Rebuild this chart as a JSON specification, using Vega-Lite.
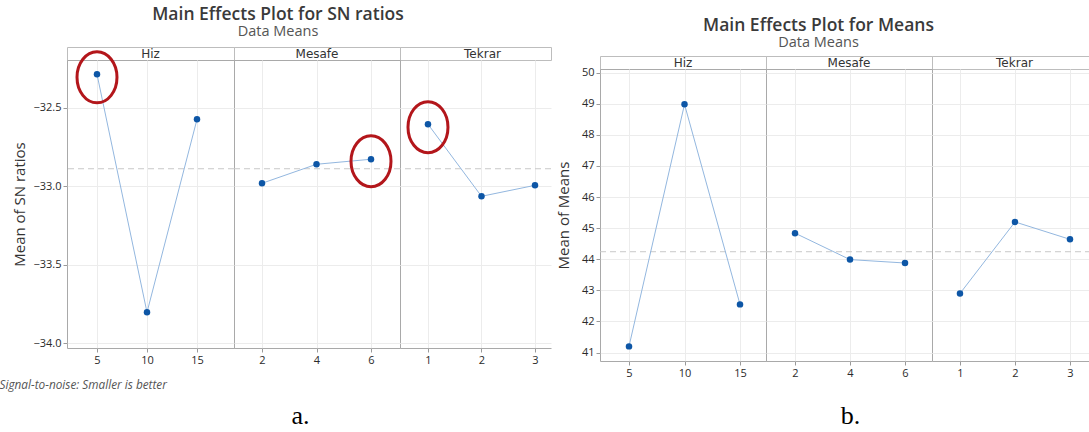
{
  "$schema": "https://vega.github.io/schema/vega-lite/v6.json",
  "background": "white",
  "padding": {"left": -2, "top": 5, "right": 0, "bottom": 4},
  "spacing": 3,
  "datasets": {
    "sn": [
      {"factor": "Hiz", "level": 5, "value": -32.288, "circled": 1},
      {"factor": "Hiz", "level": 10, "value": -33.804, "circled": 0},
      {"factor": "Hiz", "level": 15, "value": -32.575, "circled": 0},
      {"factor": "Mesafe", "level": 2, "value": -32.982, "circled": 0},
      {"factor": "Mesafe", "level": 4, "value": -32.861, "circled": 0},
      {"factor": "Mesafe", "level": 6, "value": -32.829, "circled": 1},
      {"factor": "Tekrar", "level": 1, "value": -32.606, "circled": 1},
      {"factor": "Tekrar", "level": 2, "value": -33.065, "circled": 0},
      {"factor": "Tekrar", "level": 3, "value": -32.995, "circled": 0}
    ],
    "means": [
      {"factor": "Hiz", "level": 5, "value": 41.2},
      {"factor": "Hiz", "level": 10, "value": 48.98},
      {"factor": "Hiz", "level": 15, "value": 42.55},
      {"factor": "Mesafe", "level": 2, "value": 44.84},
      {"factor": "Mesafe", "level": 4, "value": 43.99},
      {"factor": "Mesafe", "level": 6, "value": 43.88},
      {"factor": "Tekrar", "level": 1, "value": 42.9},
      {"factor": "Tekrar", "level": 2, "value": 45.2},
      {"factor": "Tekrar", "level": 3, "value": 44.64}
    ]
  },
  "config": {
    "font": "Open Sans",
    "view": {"stroke": "#a9a9a9", "strokeWidth": 1},
    "axis": {
      "labelFont": "Open Sans", "labelFontSize": 11, "labelColor": "#2a2a2a",
      "tickColor": "#9a9a9a", "tickSize": 4, "labelPadding": 2,
      "grid": true, "gridColor": "#ececec", "domain": false,
      "titleFont": "Open Sans", "titleFontWeight": "normal", "titleColor": "#333333"
    }
  },
  "hconcat": [
    {
      "title": {"text": "Main Effects Plot for SN ratios", "subtitle": "Data Means", "frame": "bounds", "anchor": "middle", "dx": 3,
        "font": "Open Sans", "fontSize": 17.5, "fontWeight": 600, "color": "#3a3a3a",
        "subtitleFont": "Open Sans", "subtitleFontSize": 14.5, "subtitleColor": "#555555", "subtitlePadding": 2, "offset": 6.5},
      "columns": 3,
      "bounds": "flush",
      "spacing": 0,
      "concat": [
        {"width": 167, "height": 13, "data": {"values": [{"label": "Hiz"}]}, "view": {"stroke": "#bdbdbd"},
          "mark": {"type": "text", "font": "DejaVu Sans", "fontSize": 12, "color": "#333333", "baseline": "middle"},
          "encoding": {"text": {"field": "label"}}},
        {"width": 166, "height": 13, "data": {"values": [{"label": "Mesafe"}]}, "view": {"stroke": "#bdbdbd"},
          "mark": {"type": "text", "font": "DejaVu Sans", "fontSize": 12, "color": "#333333", "baseline": "middle"},
          "encoding": {"text": {"field": "label"}}},
        {"width": 151, "height": 13, "data": {"values": [{"label": "Tekrar"}]}, "view": {"stroke": "#bdbdbd"},
          "mark": {"type": "text", "font": "DejaVu Sans", "fontSize": 12, "color": "#333333", "baseline": "middle", "dx": 7},
          "encoding": {"text": {"field": "label"}}},
        {
          "width": 167, "height": 288,
          "data": {"name": "sn"},
          "encoding": {"y": {"field": "value", "type": "quantitative", "scale": {"domain": [-34.031, -32.197]},
            "axis": {"values": [-34, -33.5, -33, -32.5], "format": ".1f", "title": "Mean of SN ratios", "titleFontSize": 15,
              "titleX": -48, "titleY": 144, "titleBaseline": "middle", "titleAlign": "center"}}},
          "layer": [
            {"transform": [{"aggregate": [{"op": "mean", "field": "value", "as": "value"}]}],
              "mark": {"type": "rule", "color": "#c8c8c8", "strokeDash": [6, 4], "strokeWidth": 1}, "encoding": {}},
            {"transform": [{"filter": "datum.factor === 'Hiz'"}],
              "mark": {"type": "line", "color": "#93b7df", "strokeWidth": 1},
              "encoding": {"x": {"field": "level", "type": "quantitative", "scale": {"domain": [2.0, 18.7]},
                "axis": {"values": [5, 10, 15], "format": "d", "title": "Signal-to-noise: Smaller is better", "titleFontStyle": "italic",
                  "titleFontSize": 11.8, "titleColor": "#555555", "titleX": -68, "titleY": 36, "titleAlign": "left", "titleBaseline": "middle"}}}},
            {"transform": [{"filter": "datum.factor === 'Hiz'"}],
              "mark": {"type": "point", "filled": true, "opacity": 1, "color": "#0d56a6", "size": 42},
              "encoding": {"x": {"field": "level", "type": "quantitative", "scale": {"domain": [2.0, 18.7]},
                "axis": {"values": [5, 10, 15], "format": "d", "title": "Signal-to-noise: Smaller is better", "titleFontStyle": "italic",
                  "titleFontSize": 11.8, "titleColor": "#555555", "titleX": -68, "titleY": 36, "titleAlign": "left", "titleBaseline": "middle"}}}},
            {"transform": [{"filter": "datum.factor === 'Hiz' && datum.circled === 1"}],
              "mark": {"type": "point", "shape": "M-0.784,0A0.784,1,0,1,1,0.784,0A0.784,1,0,1,1,-0.784,0Z", "size": 2601, "filled": false,
                "color": "#b3161b", "strokeWidth": 3, "opacity": 1, "yOffset": 3},
              "encoding": {"x": {"field": "level", "type": "quantitative", "scale": {"domain": [2.0, 18.7]},
                "axis": {"values": [5, 10, 15], "format": "d", "title": "Signal-to-noise: Smaller is better", "titleFontStyle": "italic",
                  "titleFontSize": 11.8, "titleColor": "#555555", "titleX": -68, "titleY": 36, "titleAlign": "left", "titleBaseline": "middle"}}}}
          ]
        },
        {
          "width": 166, "height": 288,
          "data": {"name": "sn"},
          "encoding": {"y": {"field": "value", "type": "quantitative", "scale": {"domain": [-34.031, -32.197]},
            "axis": {"values": [-34, -33.5, -33, -32.5], "labels": false, "ticks": false, "title": null}}},
          "layer": [
            {"transform": [{"aggregate": [{"op": "mean", "field": "value", "as": "value"}]}],
              "mark": {"type": "rule", "color": "#c8c8c8", "strokeDash": [6, 4], "strokeWidth": 1}, "encoding": {}},
            {"transform": [{"filter": "datum.factor === 'Mesafe'"}],
              "mark": {"type": "line", "color": "#93b7df", "strokeWidth": 1},
              "encoding": {"x": {"field": "level", "type": "quantitative", "scale": {"domain": [0.972, 7.064]},
                "axis": {"values": [2, 4, 6], "format": "d", "title": "a.", "titleFont": "Liberation Serif", "titleFontSize": 26, "titleColor": "#000000",
                  "titleX": 66, "titleY": 75, "titleAlign": "center", "titleBaseline": "alphabetic"}}}},
            {"transform": [{"filter": "datum.factor === 'Mesafe'"}],
              "mark": {"type": "point", "filled": true, "opacity": 1, "color": "#0d56a6", "size": 42},
              "encoding": {"x": {"field": "level", "type": "quantitative", "scale": {"domain": [0.972, 7.064]},
                "axis": {"values": [2, 4, 6], "format": "d", "title": "a.", "titleFont": "Liberation Serif", "titleFontSize": 26, "titleColor": "#000000",
                  "titleX": 66, "titleY": 75, "titleAlign": "center", "titleBaseline": "alphabetic"}}}},
            {"transform": [{"filter": "datum.factor === 'Mesafe' && datum.circled === 1"}],
              "mark": {"type": "point", "shape": "M-0.784,0A0.784,1,0,1,1,0.784,0A0.784,1,0,1,1,-0.784,0Z", "size": 2601, "filled": false,
                "color": "#b3161b", "strokeWidth": 3, "opacity": 1, "yOffset": 2},
              "encoding": {"x": {"field": "level", "type": "quantitative", "scale": {"domain": [0.972, 7.064]},
                "axis": {"values": [2, 4, 6], "format": "d", "title": "a.", "titleFont": "Liberation Serif", "titleFontSize": 26, "titleColor": "#000000",
                  "titleX": 66, "titleY": 75, "titleAlign": "center", "titleBaseline": "alphabetic"}}}}
          ]
        },
        {
          "width": 151, "height": 288,
          "view": {"stroke": null},
          "data": {"name": "sn"},
          "encoding": {"y": {"field": "value", "type": "quantitative", "scale": {"domain": [-34.031, -32.197]},
            "axis": {"values": [-34, -33.5, -33, -32.5], "labels": false, "ticks": false, "title": null}}},
          "layer": [
            {"transform": [{"aggregate": [{"op": "mean", "field": "value", "as": "value"}]}],
              "mark": {"type": "rule", "color": "#c8c8c8", "strokeDash": [6, 4], "strokeWidth": 1}, "encoding": {}},
            {"transform": [{"filter": "datum.factor === 'Tekrar'"}],
              "mark": {"type": "line", "color": "#93b7df", "strokeWidth": 1},
              "encoding": {"x": {"field": "level", "type": "quantitative", "scale": {"domain": [0.477, 3.299]},
                "axis": {"values": [1, 2, 3], "format": "d", "title": null, "domain": true, "domainColor": "#a9a9a9"}}}},
            {"transform": [{"filter": "datum.factor === 'Tekrar'"}],
              "mark": {"type": "point", "filled": true, "opacity": 1, "color": "#0d56a6", "size": 42},
              "encoding": {"x": {"field": "level", "type": "quantitative", "scale": {"domain": [0.477, 3.299]},
                "axis": {"values": [1, 2, 3], "format": "d", "title": null, "domain": true, "domainColor": "#a9a9a9"}}}},
            {"transform": [{"filter": "datum.factor === 'Tekrar' && datum.circled === 1"}],
              "mark": {"type": "point", "shape": "M-0.784,0A0.784,1,0,1,1,0.784,0A0.784,1,0,1,1,-0.784,0Z", "size": 2601, "filled": false,
                "color": "#b3161b", "strokeWidth": 3, "opacity": 1, "yOffset": 3},
              "encoding": {"x": {"field": "level", "type": "quantitative", "scale": {"domain": [0.477, 3.299]},
                "axis": {"values": [1, 2, 3], "format": "d", "title": null, "domain": true, "domainColor": "#a9a9a9"}}}}
          ]
        }
      ]
    },
    {
      "title": {"text": "Main Effects Plot for Means", "subtitle": "Data Means", "frame": "bounds", "anchor": "middle", "dx": -5,
        "font": "Open Sans", "fontSize": 17.5, "fontWeight": 600, "color": "#3a3a3a",
        "subtitleFont": "Open Sans", "subtitleFontSize": 14.5, "subtitleColor": "#555555", "subtitlePadding": 1, "offset": -3.5},
      "columns": 3,
      "bounds": "flush",
      "spacing": 0,
      "concat": [
        {"width": 166, "height": 9, "data": {"values": [{"label": ""}]}, "view": {"stroke": null},
          "mark": {"type": "text"}, "encoding": {"text": {"field": "label"}}},
        {"width": 166, "height": 9, "data": {"values": [{"label": ""}]}, "view": {"stroke": null},
          "mark": {"type": "text"}, "encoding": {"text": {"field": "label"}}},
        {"width": 159, "height": 9, "data": {"values": [{"label": ""}]}, "view": {"stroke": null},
          "mark": {"type": "text"}, "encoding": {"text": {"field": "label"}}},
        {"width": 166, "height": 13, "data": {"values": [{"label": "Hiz"}]}, "view": {"stroke": "#bdbdbd"},
          "mark": {"type": "text", "font": "DejaVu Sans", "fontSize": 12, "color": "#333333", "baseline": "middle"},
          "encoding": {"text": {"field": "label"}}},
        {"width": 166, "height": 13, "data": {"values": [{"label": "Mesafe"}]}, "view": {"stroke": "#bdbdbd"},
          "mark": {"type": "text", "font": "DejaVu Sans", "fontSize": 12, "color": "#333333", "baseline": "middle"},
          "encoding": {"text": {"field": "label"}}},
        {"width": 159, "height": 13, "data": {"values": [{"label": "Tekrar"}]}, "view": {"stroke": "#bdbdbd"},
          "mark": {"type": "text", "font": "DejaVu Sans", "fontSize": 12, "color": "#333333", "baseline": "middle", "dx": 3},
          "encoding": {"text": {"field": "label"}}},
        {
          "width": 166, "height": 292,
          "data": {"name": "means"},
          "encoding": {"y": {"field": "value", "type": "quantitative", "scale": {"domain": [40.73, 50.116]},
            "axis": {"values": [41, 42, 43, 44, 45, 46, 47, 48, 49, 50], "format": "d", "title": "Mean of Means", "titleFontSize": 15,
              "titleX": -37, "titleY": 146, "titleBaseline": "middle", "titleAlign": "center"}}},
          "layer": [
            {"transform": [{"aggregate": [{"op": "mean", "field": "value", "as": "value"}]}],
              "mark": {"type": "rule", "color": "#c8c8c8", "strokeDash": [6, 4], "strokeWidth": 1}, "encoding": {}},
            {"transform": [{"filter": "datum.factor === 'Hiz'"}],
              "mark": {"type": "line", "color": "#93b7df", "strokeWidth": 1},
              "encoding": {"x": {"field": "level", "type": "quantitative", "scale": {"domain": [2.387, 17.342]},
                "axis": {"values": [5, 10, 15], "format": "d", "title": null}}}},
            {"transform": [{"filter": "datum.factor === 'Hiz'"}],
              "mark": {"type": "point", "filled": true, "opacity": 1, "color": "#0d56a6", "size": 42},
              "encoding": {"x": {"field": "level", "type": "quantitative", "scale": {"domain": [2.387, 17.342]},
                "axis": {"values": [5, 10, 15], "format": "d", "title": null}}}}
          ]
        },
        {
          "width": 166, "height": 292,
          "data": {"name": "means"},
          "encoding": {"y": {"field": "value", "type": "quantitative", "scale": {"domain": [40.73, 50.116]},
            "axis": {"values": [41, 42, 43, 44, 45, 46, 47, 48, 49, 50], "labels": false, "ticks": false, "title": null}}},
          "layer": [
            {"transform": [{"aggregate": [{"op": "mean", "field": "value", "as": "value"}]}],
              "mark": {"type": "rule", "color": "#c8c8c8", "strokeDash": [6, 4], "strokeWidth": 1}, "encoding": {}},
            {"transform": [{"filter": "datum.factor === 'Mesafe'"}],
              "mark": {"type": "line", "color": "#93b7df", "strokeWidth": 1},
              "encoding": {"x": {"field": "level", "type": "quantitative", "scale": {"domain": [0.945, 6.982]},
                "axis": {"values": [2, 4, 6], "format": "d", "title": "b.", "titleFont": "Liberation Serif", "titleFontSize": 26, "titleColor": "#000000",
                  "titleX": 84, "titleY": 62, "titleAlign": "center", "titleBaseline": "alphabetic"}}}},
            {"transform": [{"filter": "datum.factor === 'Mesafe'"}],
              "mark": {"type": "point", "filled": true, "opacity": 1, "color": "#0d56a6", "size": 42},
              "encoding": {"x": {"field": "level", "type": "quantitative", "scale": {"domain": [0.945, 6.982]},
                "axis": {"values": [2, 4, 6], "format": "d", "title": "b.", "titleFont": "Liberation Serif", "titleFontSize": 26, "titleColor": "#000000",
                  "titleX": 84, "titleY": 62, "titleAlign": "center", "titleBaseline": "alphabetic"}}}}
          ]
        },
        {
          "width": 159, "height": 292,
          "view": {"stroke": null},
          "data": {"name": "means"},
          "encoding": {"y": {"field": "value", "type": "quantitative", "scale": {"domain": [40.73, 50.116]},
            "axis": {"values": [41, 42, 43, 44, 45, 46, 47, 48, 49, 50], "labels": false, "ticks": false, "title": null}}},
          "layer": [
            {"transform": [{"aggregate": [{"op": "mean", "field": "value", "as": "value"}]}],
              "mark": {"type": "rule", "color": "#c8c8c8", "strokeDash": [6, 4], "strokeWidth": 1}, "encoding": {}},
            {"transform": [{"filter": "datum.factor === 'Tekrar'"}],
              "mark": {"type": "line", "color": "#93b7df", "strokeWidth": 1},
              "encoding": {"x": {"field": "level", "type": "quantitative", "scale": {"domain": [0.491, 3.382]},
                "axis": {"values": [1, 2, 3], "format": "d", "title": null, "domain": true, "domainColor": "#a9a9a9"}}}},
            {"transform": [{"filter": "datum.factor === 'Tekrar'"}],
              "mark": {"type": "point", "filled": true, "opacity": 1, "color": "#0d56a6", "size": 42},
              "encoding": {"x": {"field": "level", "type": "quantitative", "scale": {"domain": [0.491, 3.382]},
                "axis": {"values": [1, 2, 3], "format": "d", "title": null, "domain": true, "domainColor": "#a9a9a9"}}}}
          ]
        }
      ]
    }
  ]
}
